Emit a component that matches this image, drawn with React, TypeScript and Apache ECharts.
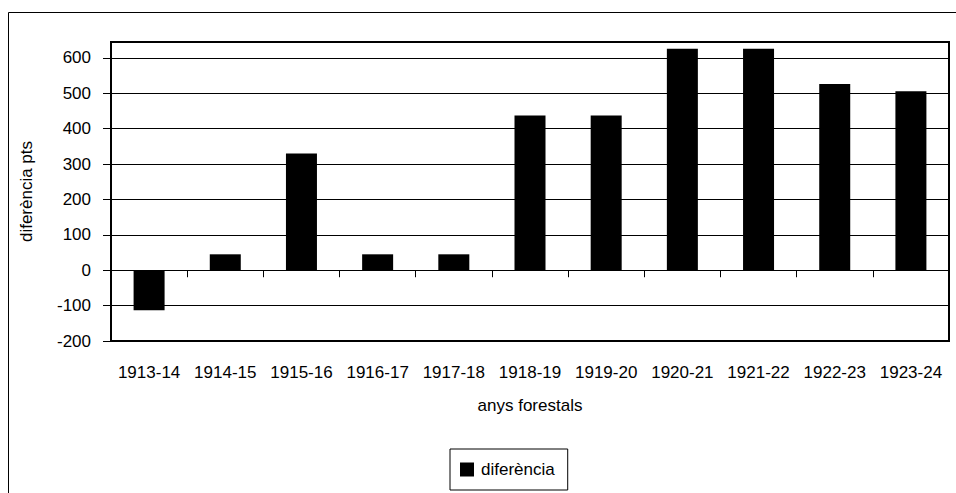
import React, { useEffect, useRef } from "react";
import * as echarts from "echarts";

const categories = [
  "1913-14", "1914-15", "1915-16", "1916-17", "1917-18", "1918-19",
  "1919-20", "1920-21", "1921-22", "1922-23", "1923-24",
];
const diferencia = [-113, 45, 330, 45, 45, 437, 437, 626, 626, 526, 506];
const seriesName = "diferència";
const yAxisName = "diferència pts";
const xAxisName = "anys forestals";
const yMin = -200;
const yMax = 645;
const yInterval = 100;

const FONT = "'Liberation Sans', Arial, sans-serif";

export default function App() {
  const ref = useRef<HTMLDivElement>(null);
  useEffect(() => {
    if (!ref.current) return;
    const chart = echarts.init(ref.current, undefined, { renderer: "svg" });
    chart.setOption({
      animation: false,
      backgroundColor: "#fff",
      textStyle: { fontFamily: FONT, color: "#000" },
      graphic: [
        {
          type: "rect",
          z: -10,
          shape: { x: 8.5, y: 12.5, width: 1000, height: 600 },
          style: { fill: "none", stroke: "#000", lineWidth: 1 },
          silent: true,
        },
      ],
      grid: {
        left: 111,
        top: 42,
        right: 7,
        bottom: 152,
        show: true,
        borderColor: "#000",
        borderWidth: 2,
        backgroundColor: "transparent",
      },
      legend: {
        data: [seriesName],
        icon: "rect",
        itemWidth: 14,
        itemHeight: 14,
        itemGap: 5,
        left: 450,
        top: 449,
        padding: [12, 13, 12, 10],
        borderColor: "#000",
        borderWidth: 1,
        textStyle: { fontFamily: FONT, fontSize: 17, color: "#000", padding: [0, 0, 0, 2] },
      },
      xAxis: [
        {
          type: "category",
          data: categories,
          position: "bottom",
          axisLine: { show: false, onZero: false },
          axisTick: { show: false },
          axisLabel: { fontFamily: FONT, fontSize: 17, color: "#000", margin: 23, interval: 0 },
          name: xAxisName,
          nameLocation: "middle",
          nameGap: 56,
          nameTextStyle: { fontFamily: FONT, fontSize: 17, color: "#000" },
        },
        {
          type: "category",
          data: categories,
          position: "bottom",
          axisLine: { show: true, onZero: true, lineStyle: { color: "#000", width: 1 } },
          axisTick: { show: true, length: 7, alignWithLabel: false, lineStyle: { color: "#000" } },
          axisLabel: { show: false },
          splitLine: { show: false },
        },
      ],
      yAxis: {
        type: "value",
        min: yMin,
        max: yMax,
        interval: yInterval,
        axisLine: { show: true, lineStyle: { color: "#000", width: 2 } },
        axisTick: { show: true, length: 8, lineStyle: { color: "#000" } },
        axisLabel: {
          fontFamily: FONT,
          fontSize: 17,
          color: "#000",
          margin: 20,
          showMaxLabel: false,
        },
        splitLine: { show: true, lineStyle: { color: "#000", width: 1 } },
        name: yAxisName,
        nameLocation: "middle",
        nameGap: 76,
        nameTextStyle: { fontFamily: FONT, fontSize: 17, color: "#000" },
      },
      series: [
        {
          name: seriesName,
          type: "bar",
          xAxisIndex: 0,
          data: diferencia,
          barWidth: 31,
          itemStyle: { color: "#000" },
        },
      ],
    });
    return () => chart.dispose();
  }, []);
  return (
    <div
      ref={ref}
      style={{ position: "absolute", left: 0, top: 0, width: 956, height: 493 }}
    />
  );
}
